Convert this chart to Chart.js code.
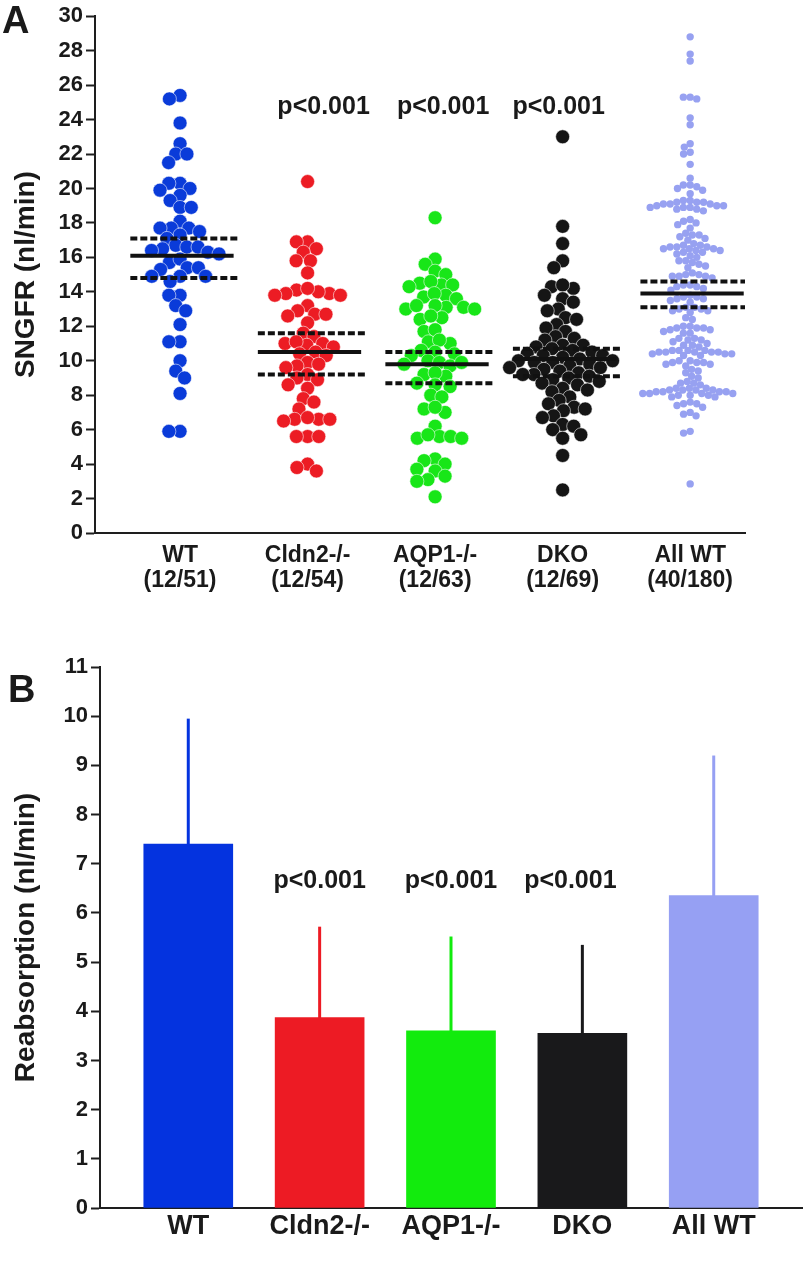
<!DOCTYPE html>
<html>
<head>
<meta charset="utf-8">
<script src="https://cdn.jsdelivr.net/npm/chart.js@4.4.1/dist/chart.umd.min.js"></script>
<style>
  body { margin: 0; background: #fff; width: 806px; height: 1264px; position: relative; overflow: hidden; }
  canvas { position: absolute; left: 0; }
  #chartA { top: 0; }
  #chartB { top: 640px; }
</style>
</head>
<body>
<canvas id="chartA" width="806" height="610"></canvas>
<canvas id="chartB" width="806" height="624"></canvas>
<script>
// groups
const categories = ['WT', 'Cldn2-/-', 'AQP1-/-', 'DKO', 'All WT'];
const groupCounts = ['(12/51)', '(12/54)', '(12/63)', '(12/69)', '(40/180)'];
const pLabels = ['', 'p<0.001', 'p<0.001', 'p<0.001', ''];

// panel A - SNGFR (nl/min), single nephrons
const wtSNGFR = [25.4, 25.2, 23.8, 22.6, 22.0, 22.0, 21.5, 20.3, 20.3, 20.0, 19.9, 19.6, 19.3, 18.9, 18.9,
  18.1, 17.7, 17.7, 17.7, 17.5, 17.3, 17.1, 16.7, 16.6, 16.6, 16.5, 16.4, 16.3, 16.2, 15.7, 15.9,
  15.4, 15.3, 15.4, 14.9, 14.9, 14.9, 14.6, 13.8, 13.8, 13.2, 12.9, 12.1, 11.1, 11.1, 10.0, 9.4,
  9.0, 8.1, 5.9, 5.9];
const cldn2SNGFR = [20.4, 16.9, 16.9, 16.5, 16.3, 15.8, 15.8, 15.1, 14.1, 13.9, 14.0, 13.8, 14.2, 13.9,
  13.8, 13.2, 12.7, 12.7, 12.9, 12.6, 12.2, 11.6, 11.4, 11.0, 11.0, 10.9, 11.1, 10.8, 10.5, 10.4,
  10.3, 9.9, 9.8, 9.7, 9.6, 9.2, 9.0, 8.9, 8.6, 8.4, 7.8, 7.6, 7.2, 6.6, 6.6, 6.6, 6.7, 6.5,
  5.6, 5.6, 5.6, 4.0, 3.6, 3.8];
const aqp1SNGFR = [18.3, 15.9, 15.6, 15.2, 15.0, 14.4, 14.5, 14.3, 14.4, 14.6, 13.8, 13.7, 13.9, 13.6,
  13.1, 13.0, 13.2, 13.1, 13.0, 13.2, 12.5, 12.4, 12.6, 11.7, 11.8, 11.1, 11.0, 11.2, 10.5, 10.4,
  10.6, 10.3, 10.0, 9.9, 9.8, 9.7, 9.9, 9.2, 9.1, 9.3, 8.6, 8.5, 8.7, 8.0, 7.9, 7.2, 7.0, 7.3,
  6.2, 5.6, 5.5, 5.7, 5.6, 5.5, 4.3, 4.0, 4.2, 3.7, 3.6, 3.3, 3.1, 3.0, 2.1];
const dkoSNGFR = [23.0, 17.8, 16.8, 15.8, 15.4, 14.3, 14.2, 14.4, 13.8, 13.6, 13.4, 13.0, 12.9, 12.5,
  12.4, 12.1, 11.9, 11.7, 11.4, 11.2, 11.3, 10.9, 10.8, 10.7, 10.9, 10.6, 10.4, 10.3, 10.2, 10.5,
  10.1, 10.3, 10.0, 9.9, 9.8, 10.0, 9.9, 9.7, 9.6, 9.5, 9.6, 9.4, 9.3, 9.2, 9.1, 9.0, 9.2, 8.9,
  8.8, 8.7, 8.6, 8.4, 8.2, 8.3, 7.9, 7.7, 7.5, 7.3, 7.1, 7.2, 6.8, 6.7, 6.3, 6.2, 6.0, 5.7, 5.5,
  4.5, 2.5];
const allWtSNGFR = [28.8, 27.8, 27.4, 25.3, 25.2, 25.3, 24.1, 23.7, 22.6, 22.4, 22.1, 22.0, 21.4, 20.6,
  20.2, 20.1, 20.0, 20.2, 19.9, 19.7,
  19.3, 19.2, 19.1, 19.0, 19.2, 18.9, 19.1, 19.3, 18.8, 19.0, 18.9, 19.2, 18.7, 18.9, 19.0, 18.8, 19.1,
  18.2, 18.0, 17.9, 18.1, 17.7, 17.3, 17.2, 17.4, 17.1, 17.3, 17.0,
  16.7, 16.6, 16.5, 16.8, 16.4, 16.6, 16.3, 16.5, 16.7, 16.2, 16.4, 16.6, 16.1, 16.3, 16.0, 16.5,
  15.8, 15.7, 15.6, 15.8, 15.5, 15.4,
  15.0, 14.9, 15.1, 14.9, 14.8, 15.0, 14.9, 14.4, 14.3, 14.2, 14.4, 14.3, 14.1,
  13.7, 13.6, 13.5, 13.8, 13.6, 13.4, 13.7, 13.1, 13.0, 12.9, 13.1, 12.8, 13.0, 12.9, 12.5, 12.4,
  12.0, 11.9, 11.9, 11.8, 12.0, 11.9, 11.8, 11.7, 11.6, 11.6, 11.3, 11.2, 11.1, 11.2, 11.3,
  11.0, 10.9, 10.9, 10.8,
  10.6, 10.5, 10.4, 10.5, 10.6, 10.3, 10.5, 10.4, 10.6, 10.5, 10.4, 10.3, 10.5, 10.6,
  10.0, 9.9, 9.8, 9.9, 10.0, 9.8, 9.9, 9.7, 9.4, 9.5, 9.3, 9.1, 9.0, 8.7, 8.8, 8.6, 8.7,
  8.4, 8.3, 8.2, 8.4, 8.1, 8.3, 8.0, 8.2, 8.1, 7.9, 8.3, 8.0, 8.2, 8.4, 8.1, 8.0, 7.9, 8.2, 8.3, 8.1,
  7.6, 7.5, 7.4, 7.5, 7.3, 7.0, 6.9, 6.8, 5.9, 5.8, 2.85];
const sngfrGroups = [wtSNGFR, cldn2SNGFR, aqp1SNGFR, dkoSNGFR, allWtSNGFR];
const sngfrMean = [16.1, 10.5, 9.8, 10.1, 13.9];
const sngfrSemHigh = [17.1, 11.6, 10.5, 10.7, 14.6];
const sngfrSemLow = [14.8, 9.2, 8.7, 9.1, 13.1];

// panel B - reabsorption (nl/min), mean + SD
const reabsMean = [7.4, 3.87, 3.6, 3.55, 6.35];
const reabsTop = [9.95, 5.72, 5.52, 5.35, 9.2];

const dotColors = ['#0a3bd9', '#ec1c24', '#18e618', '#151515', '#97a1f1'];
const barColors = ['#0433df', '#ed1b24', '#12eb0d', '#19191b', '#96a0f3'];
const dotRadius = [7, 7, 7, 7, 3.7];

Chart.defaults.font.family = "'Liberation Sans', Arial, Helvetica, sans-serif";
Chart.defaults.font.weight = 'bold';
Chart.defaults.color = '#1a1a1a';
Chart.defaults.animation = false;

const axisColor = '#1e1e1e';

// simple beeswarm: spread points sideways so they don't pile up
function swarm(ys, minDist) {
  const order = ys.map((y, i) => i).sort((a, b) => ys[a] - ys[b]);
  const placed = [];
  const out = new Array(ys.length).fill(0);
  order.forEach(i => {
    const y = ys[i];
    const blocked = [];
    placed.forEach(p => {
      const dy = Math.abs(p.y - y);
      if (dy < minDist) {
        const w = Math.sqrt(minDist * minDist - dy * dy);
        blocked.push([p.x - w, p.x + w]);
      }
    });
    const cands = [0];
    blocked.forEach(b => cands.push(b[0], b[1]));
    cands.sort((a, b) => Math.abs(a) - Math.abs(b) || a - b);
    let x = 0;
    for (const c of cands) {
      if (!blocked.some(b => c > b[0] + 1e-6 && c < b[1] - 1e-6)) { x = c; break; }
    }
    placed.push({ x, y });
    out[i] = x;
  });
  return out;
}

const textPlugin = (letter, letterX, letterY, labelValue, nudge) => ({
  id: 'labels' + letter,
  afterDraw(chart) {
    const ctx = chart.ctx;
    ctx.save();
    ctx.fillStyle = '#1a1a1a';
    ctx.font = "bold 38px 'Liberation Sans', Arial, sans-serif";
    ctx.textAlign = 'left';
    ctx.textBaseline = 'alphabetic';
    ctx.fillText(letter, letterX, letterY);
    ctx.font = "bold 25px 'Liberation Sans', Arial, sans-serif";
    ctx.textAlign = 'center';
    ctx.textBaseline = 'middle';
    pLabels.forEach((t, i) => {
      if (!t) return;
      ctx.fillText(t, chart.scales.x.getPixelForValue(i) + nudge[i], chart.scales.y.getPixelForValue(labelValue));
    });
    ctx.restore();
  }
});

function yAxis(max, step, width, title) {
  return {
    min: 0, max: max,
    afterFit: s => { s.width = width; },
    ticks: { stepSize: step, padding: 3, color: '#1a1a1a', font: { size: 22, weight: 'bold' } },
    grid: { display: true, drawOnChartArea: false, drawTicks: true, tickLength: 9, tickWidth: 2, tickColor: axisColor },
    border: { display: true, color: axisColor, width: 2 },
    title: { display: true, text: title, color: '#1a1a1a', font: { size: 28, weight: 'bold' }, padding: { top: 9, bottom: 0 } }
  };
}

function xAxis(min, max, height, labelFn, fontSize, pad) {
  return {
    type: 'linear', min: min, max: max, offset: false,
    afterFit: s => { s.height = height; },
    afterBuildTicks: s => { s.ticks = categories.map((c, i) => ({ value: i })); },
    ticks: { autoSkip: false, maxRotation: 0, padding: pad, color: '#1a1a1a',
      font: { size: fontSize, weight: 'bold', lineHeight: 1.1 },
      callback: v => labelFn(Math.round(v)) },
    grid: { display: false, drawTicks: false },
    border: { display: true, color: axisColor, width: 2 }
  };
}

// ---- panel A: scatter ----
const dotSets = sngfrGroups.map((vals, g) => ({
  type: 'scatter',
  data: vals.map(v => ({ x: g, y: v })),
  backgroundColor: dotColors[g],
  borderColor: 'rgba(255,255,255,0.7)',
  borderWidth: g === 4 ? 0 : 0.8,
  pointRadius: dotRadius[g],
  pointHoverRadius: dotRadius[g],
  order: 2
}));

const lineSets = [];
[[sngfrMean, []], [sngfrSemHigh, [7, 3]], [sngfrSemLow, [7, 3]]].forEach(([arr, dash]) => {
  arr.forEach((v, g) => {
    lineSets.push({
      type: 'line',
      data: [{ x: g - 0.39, y: v }, { x: g + (dash.length ? 0.45 : 0.42), y: v }],
      borderColor: '#111',
      borderWidth: 4,
      borderDash: dash,
      pointRadius: 0,
      fill: false,
      order: 1
    });
  });
});

const chartA = new Chart(document.getElementById('chartA'), {
  type: 'scatter',
  data: { datasets: dotSets.concat(lineSets) },
  options: {
    responsive: false,
    events: [],
    layout: { padding: { left: 0, right: 61, top: 14, bottom: 0 } },
    plugins: { legend: { display: false }, tooltip: { enabled: false } },
    scales: {
      x: xAxis(-0.667, 4.43, 77, i => [categories[i], groupCounts[i]], 23, 10),
      y: yAxis(30, 2, 95, 'SNGFR (nl/min)')
    }
  },
  plugins: [textPlugin('A', 2, 33, 24.7, [0, 16, 8, -4, 0])]
});

// lay out the dots as a beeswarm now that the scales exist
const pxPerX = chartA.scales.x.getPixelForValue(1) - chartA.scales.x.getPixelForValue(0);
sngfrGroups.forEach((vals, g) => {
  const ys = vals.map(v => chartA.scales.y.getPixelForValue(v));
  const minDist = dotRadius[g] * 2 * (g === 4 ? 0.92 : 0.8);
  const off = swarm(ys, minDist);
  chartA.data.datasets[g].data = vals.map((v, k) => ({ x: g + off[k] / pxPerX, y: v }));
});
chartA.update('none');

// ---- panel B: bars with upward SD line ----
const errBars = {
  id: 'errBars',
  beforeDatasetsDraw(chart) {
    const ctx = chart.ctx;
    const meta = chart.getDatasetMeta(0);
    ctx.save();
    ctx.lineWidth = 3;
    meta.data.forEach((bar, i) => {
      ctx.strokeStyle = barColors[i];
      ctx.beginPath();
      ctx.moveTo(bar.x, bar.y + 2);
      ctx.lineTo(bar.x, chart.scales.y.getPixelForValue(reabsTop[i]));
      ctx.stroke();
    });
    ctx.restore();
  }
};

const chartB = new Chart(document.getElementById('chartB'), {
  type: 'bar',
  data: {
    datasets: [{
      data: reabsMean.map((v, i) => ({ x: i, y: v })),
      backgroundColor: barColors,
      borderWidth: 0,
      barThickness: 89
    }]
  },
  options: {
    responsive: false,
    events: [],
    layout: { padding: { left: 0, right: 4, top: 27, bottom: 0 } },
    plugins: { legend: { display: false }, tooltip: { enabled: false } },
    scales: {
      x: xAxis(-0.672, 4.672, 56, i => categories[i], 27, 4),
      y: yAxis(11, 1, 100, 'Reabsorption (nl/min)')
    }
  },
  plugins: [errBars, textPlugin('B', 8, 62, 6.65, [0, 0, 0, -12, 0])]
});
</script>
</body>
</html>
